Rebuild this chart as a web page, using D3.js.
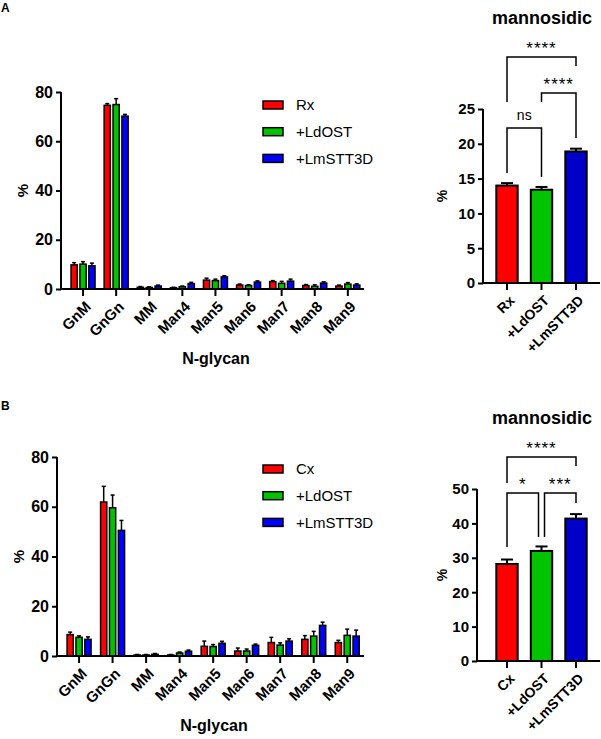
<!DOCTYPE html>
<html>
<head>
<meta charset="utf-8">
<script src="https://cdn.jsdelivr.net/npm/d3@7/dist/d3.min.js"></script>
<style>
  html, body { margin: 0; padding: 0; background: #fff; }
  svg { display: block; font-family: "Liberation Sans", Arial, sans-serif; }
</style>
</head>
<body>
<svg id="chart" width="601" height="739"></svg>
<script>
// ---------------- DATA ----------------
const glycans = ["GnM", "GnGn", "MM", "Man4", "Man5", "Man6", "Man7", "Man8", "Man9"];
const seriesA = ["Rx", "+LdOST", "+LmSTT3D"];
const seriesB = ["Cx", "+LdOST", "+LmSTT3D"];
const glycanTicks = [0, 20, 40, 60, 80];

// Panel A (Rx)
const aRx        = [9.8, 74.6, 0.7, 0.5, 3.6, 1.6, 3.0, 1.4, 1.2];
const aRxSD      = [0.9, 0.7, 0.3, 0.2, 0.8, 0.4, 0.4, 0.4, 0.4];
const aLdOST     = [10.1, 74.9, 0.6, 0.9, 3.4, 1.4, 2.3, 1.1, 2.0];
const aLdOSTSD   = [1.0, 2.4, 0.3, 0.3, 0.6, 0.3, 0.8, 0.6, 0.6];
const aLmSTT3D   = [9.4, 70.2, 1.2, 2.2, 4.9, 2.8, 3.2, 2.4, 1.6];
const aLmSTT3DSD = [1.1, 0.7, 0.4, 0.5, 0.5, 0.5, 0.8, 0.5, 0.5];

// Panel B (Cx)
const bCx        = [8.6, 61.9, 0.4, 0.4, 3.9, 2.0, 5.4, 6.7, 5.4];
const bCxSD      = [1.0, 6.3, 0.2, 0.2, 2.1, 1.2, 2.1, 1.5, 0.9];
const bLdOST     = [7.5, 59.6, 0.4, 1.2, 3.8, 2.0, 4.4, 8.0, 8.3];
const bLdOSTSD   = [0.6, 5.1, 0.2, 0.4, 0.8, 0.8, 0.9, 1.9, 2.5];
const bLmSTT3D   = [6.7, 50.5, 0.7, 1.9, 5.1, 4.3, 6.0, 12.3, 8.0];
const bLmSTT3DSD = [1.0, 4.0, 0.3, 0.5, 0.8, 0.5, 0.9, 1.3, 2.4];

// Mannosidic totals
const mannA      = [14.0, 13.4, 18.9];
const mannASD    = [0.35, 0.4, 0.4];
const mannATicks = [0, 5, 10, 15, 20, 25];
const mannB      = [28.2, 32.0, 41.4];
const mannBSD    = [1.3, 1.3, 1.3];
const mannBTicks = [0, 10, 20, 30, 40, 50];

// significance annotations: [from index, to index, label]
const sigA = [[0, 2, "****"], [1, 2, "****"], [0, 1, "ns"]];
const sigB = [[0, 2, "****"], [0, 1, "*"], [1, 2, "***"]];

const colors = ["#ff0000", "#00c400", "#0000ff"];
const colorsMann = ["#ff0000", "#00c400", "#0000c8"];

// ---------------- DRAWING ----------------
const svg = d3.select("#chart");
const FONT = "'Liberation Sans', Arial, sans-serif";

function groupedPanel(cfg) {
  const g = svg.append("g");
  const y = d3.scaleLinear().domain([0, 80]).range([cfg.y0, cfg.y80]);
  const x = d3.scaleBand().domain(glycans).range([cfg.bandStart, cfg.bandEnd]).padding(0);
  const sub = d3.scaleBand().domain(cfg.series).range([-12, 12]).paddingInner(0.3);

  cfg.values.forEach((vals, si) => {
    const sg = g.append("g");
    const bx = d => x(d) + x.bandwidth() / 2 + sub(cfg.series[si]);
    const mx = d => bx(d) + sub.bandwidth() / 2;
    sg.selectAll("rect").data(glycans).join("rect")
      .attr("x", bx)
      .attr("y", (d, i) => y(vals[i]))
      .attr("width", sub.bandwidth())
      .attr("height", (d, i) => y(0) - y(vals[i]))
      .attr("fill", colors[si])
      .attr("stroke", "#000").attr("stroke-width", 1.5);
    const sd = cfg.sds[si];
    sg.selectAll("line.err").data(glycans).join("line").attr("class", "err")
      .attr("x1", mx).attr("x2", mx)
      .attr("y1", (d, i) => y(vals[i]))
      .attr("y2", (d, i) => y(vals[i] + sd[i]))
      .attr("stroke", "#000").attr("stroke-width", 1.5);
    sg.selectAll("line.cap").data(glycans).join("line").attr("class", "cap")
      .attr("x1", d => mx(d) - 2).attr("x2", d => mx(d) + 2)
      .attr("y1", (d, i) => y(vals[i] + sd[i]))
      .attr("y2", (d, i) => y(vals[i] + sd[i]))
      .attr("stroke", "#000").attr("stroke-width", 1.5);
  });

  const ya = g.append("g").attr("transform", `translate(${cfg.axisX},0)`)
    .call(d3.axisLeft(y).tickValues(glycanTicks).tickSize(5).tickSizeOuter(0).tickPadding(3));
  const xa = g.append("g").attr("transform", `translate(0,${cfg.y0})`)
    .call(d3.axisBottom(x).tickSize(7).tickSizeOuter(0));
  [ya, xa].forEach(a => {
    a.select(".domain").attr("stroke-width", 2);
    a.selectAll(".tick line").attr("stroke-width", 2);
  });
  xa.select(".domain").attr("d", `M${cfg.axisX},0H${cfg.axisEnd}`);
  ya.select(".domain").attr("d", `M0,${cfg.y80}V${cfg.y0}`);
  ya.selectAll("text").attr("font-size", 16).attr("font-weight", "bold").attr("font-family", FONT);
  xa.selectAll("text")
    .attr("font-size", 15).attr("font-weight", "bold").attr("font-family", FONT)
    .attr("text-anchor", "end").attr("y", 0).attr("dy", "0.35em")
    .attr("transform", "translate(5,15) rotate(-45)");

  g.append("text").attr("x", cfg.titleX).attr("y", cfg.y0 + 75)
    .attr("text-anchor", "middle").attr("font-size", 16).attr("font-weight", "bold")
    .attr("font-family", FONT).text("N-glycan");
  g.append("text").attr("transform", `translate(${cfg.pctX},${(cfg.y0 + cfg.y80) / 2}) rotate(-90)`)
    .attr("text-anchor", "middle").attr("font-size", 15).attr("font-weight", "bold")
    .attr("font-family", FONT).text("%");

  cfg.series.forEach((s, i) => {
    const ly = cfg.legendY + i * 26.7;
    g.append("rect").attr("x", 263).attr("y", ly - 4).attr("width", 20).attr("height", 8)
      .attr("fill", colors[i]).attr("stroke", "#000").attr("stroke-width", 1.5);
    g.append("text").attr("x", 296).attr("y", ly).attr("dy", "0.36em")
      .attr("font-size", 15).attr("font-family", FONT).text(s);
  });

  g.append("text").attr("x", 1).attr("y", cfg.letterY).attr("font-size", 12)
    .attr("font-weight", "bold").attr("font-family", FONT).text(cfg.letter);
}

function mannPanel(cfg) {
  const g = svg.append("g");
  const top = cfg.ticks[cfg.ticks.length - 1];
  const y = d3.scaleLinear().domain([0, top]).range([cfg.y0, cfg.yTop]);
  const x = d3.scaleBand().domain(cfg.cats).range([489.75, 593.25]).paddingInner(0.38).paddingOuter(0.19);
  const cx = d => x(d) + x.bandwidth() / 2;

  g.selectAll("rect").data(cfg.cats).join("rect")
    .attr("x", d => x(d)).attr("width", x.bandwidth())
    .attr("y", (d, i) => y(cfg.values[i]))
    .attr("height", (d, i) => y(0) - y(cfg.values[i]))
    .attr("fill", (d, i) => colorsMann[i])
    .attr("stroke", "#000").attr("stroke-width", 2);
  g.selectAll("line.err").data(cfg.cats).join("line").attr("class", "err")
    .attr("x1", cx).attr("x2", cx)
    .attr("y1", (d, i) => y(cfg.values[i]))
    .attr("y2", (d, i) => y(cfg.values[i] + cfg.sds[i]))
    .attr("stroke", "#000").attr("stroke-width", 2);
  g.selectAll("line.cap").data(cfg.cats).join("line").attr("class", "cap")
    .attr("x1", d => cx(d) - 6).attr("x2", d => cx(d) + 6)
    .attr("y1", (d, i) => y(cfg.values[i] + cfg.sds[i]))
    .attr("y2", (d, i) => y(cfg.values[i] + cfg.sds[i]))
    .attr("stroke", "#000").attr("stroke-width", 2);

  const ya = g.append("g").attr("transform", `translate(${cfg.axisX},0)`)
    .call(d3.axisLeft(y).tickValues(cfg.ticks).tickSize(5).tickSizeOuter(0).tickPadding(3));
  const xa = g.append("g").attr("transform", `translate(0,${cfg.y0})`)
    .call(d3.axisBottom(x).tickSize(7).tickSizeOuter(0));
  [ya, xa].forEach(a => {
    a.select(".domain").attr("stroke-width", 2);
    a.selectAll(".tick line").attr("stroke-width", 2);
  });
  xa.select(".domain").attr("d", `M${cfg.axisX},0H600`);
  ya.select(".domain").attr("d", `M0,${cfg.yTop}V${cfg.y0}`);
  ya.selectAll("text").attr("font-size", 15).attr("font-weight", "bold").attr("font-family", FONT);
  xa.selectAll("text")
    .attr("font-size", 14).attr("font-weight", "bold").attr("font-family", FONT)
    .attr("text-anchor", "end").attr("y", 0).attr("dy", "0.35em")
    .attr("transform", "translate(5,15) rotate(-45)");

  g.append("text").attr("x", 542).attr("y", cfg.titleY)
    .attr("text-anchor", "middle").attr("font-size", 18).attr("font-weight", "bold")
    .attr("font-family", FONT).text("mannosidic");
  g.append("text").attr("transform", `translate(447,${(cfg.y0 + cfg.yTop) / 2}) rotate(-90)`)
    .attr("text-anchor", "middle").attr("font-size", 14).attr("font-weight", "bold")
    .attr("font-family", FONT).text("%");

  cfg.sig.forEach((s, k) => {
    const b = cfg.brackets[k];
    const x1 = cx(cfg.cats[s[0]]) + b.dx1, x2 = cx(cfg.cats[s[1]]) + b.dx2;
    g.append("path")
      .attr("d", `M${x1},${b.l}V${b.h}H${x2}V${b.r}`)
      .attr("fill", "none").attr("stroke", "#000").attr("stroke-width", 1.5);
    const isStar = s[2].indexOf("*") >= 0;
    g.append("text").attr("x", (x1 + x2) / 2).attr("y", b.h - (isStar ? 3 : 8))
      .attr("text-anchor", "middle").attr("font-size", isStar ? 17 : 14)
      .attr("font-family", FONT).attr("letter-spacing", isStar ? 1 : 0).text(s[2]);
  });
}

groupedPanel({
  letter: "A", letterY: 12, series: seriesA,
  values: [aRx, aLdOST, aLmSTT3D], sds: [aRxSD, aLdOSTSD, aLmSTT3DSD],
  y0: 289, y80: 92, axisX: 61, axisEnd: 364,
  bandStart: 66.5, bandEnd: 364.4, titleX: 216, pctX: 28, legendY: 105
});
groupedPanel({
  letter: "B", letterY: 410, series: seriesB,
  values: [bCx, bLdOST, bLmSTT3D], sds: [bCxSD, bLdOSTSD, bLmSTT3DSD],
  y0: 656, y80: 457, axisX: 57, axisEnd: 364,
  bandStart: 62.3, bandEnd: 364, titleX: 214, pctX: 24, legendY: 469
});
mannPanel({
  cats: seriesA, values: mannA, sds: mannASD, ticks: mannATicks,
  y0: 283, yTop: 109, axisX: 483, titleY: 24, sig: sigA,
  brackets: [
    { l: 102, h: 57, r: 66, dx1: 0, dx2: 0 },
    { l: 102, h: 93, r: 138, dx1: 0, dx2: 0 },
    { l: 173, h: 128, r: 177, dx1: 0, dx2: 0 }
  ]
});
mannPanel({
  cats: seriesB, values: mannB, sds: mannBSD, ticks: mannBTicks,
  y0: 661, yTop: 489, axisX: 477, titleY: 424, sig: sigB,
  brackets: [
    { l: 483, h: 457, r: 466, dx1: 0, dx2: 0 },
    { l: 547, h: 493, r: 537, dx1: 0, dx2: -3 },
    { l: 537, h: 493, r: 503, dx1: 3, dx2: 0 }
  ]
});
</script>
</body>
</html>
